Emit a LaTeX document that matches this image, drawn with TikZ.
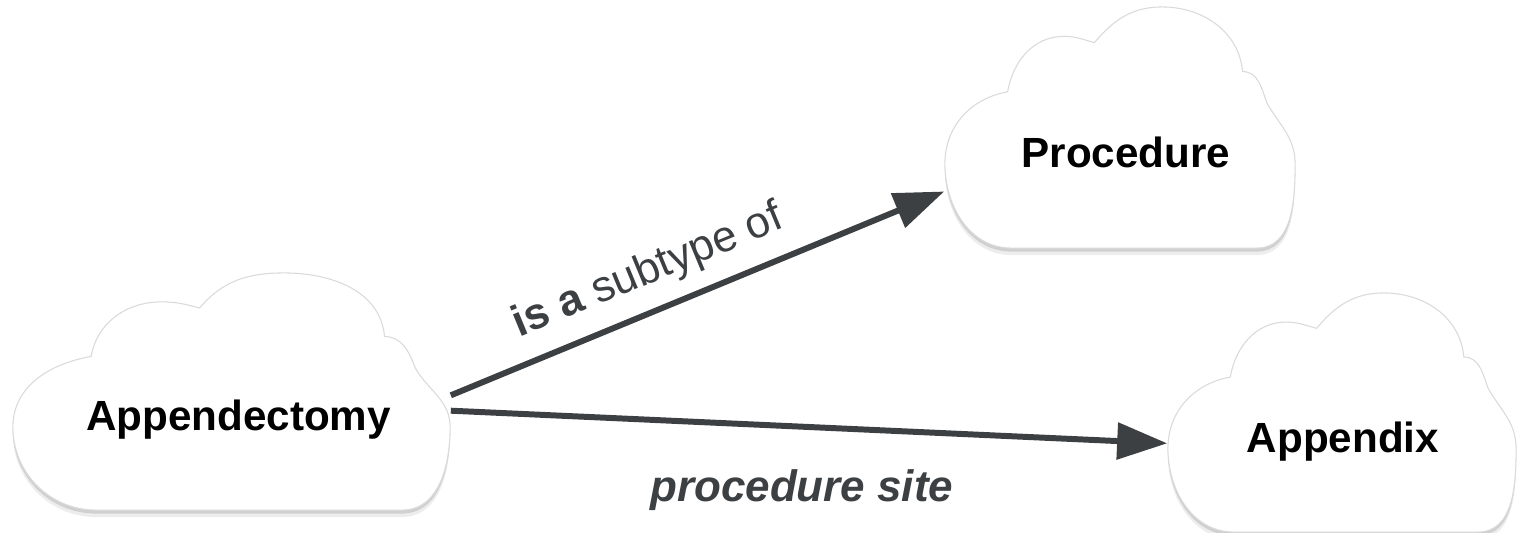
\documentclass[tikz,border=0pt]{standalone}
\usepackage{fontspec}
\setmainfont{Liberation Sans}
\usepackage{tikz}
\usetikzlibrary{positioning,arrows.meta,backgrounds}
\definecolor{linegray}{HTML}{3C4043}
\definecolor{cloudedge}{HTML}{DADADA}

% cloud outline around a named box: #1 node, #2 width (cm), #3 height (cm)
\newcommand{\drawcloud}[3]{%
  \begin{scope}[shift={(#1.center)},x=#2cm,y=#3cm]
    \path[cloud] (-0.31,-0.5) -- (0.39,-0.5)
      to[out=0,in=-90] (0.5,-0.15)
      to[out=90,in=-60] (0.42,0.10)
      to[out=110,in=0] (0.35,0.232)
      to[out=95,in=0] (0.12,0.5)
      to[out=180,in=50] (-0.073,0.352)
      to[out=165,in=0] (-0.16,0.378)
      to[out=180,in=80] (-0.321,0.148)
      to[out=190,in=90] (-0.5,-0.15)
      to[out=-90,in=180] (-0.31,-0.5) -- cycle;
  \end{scope}}

\begin{document}
\begin{tikzpicture}[
  x = 0.01cm,
  y = -0.01cm,
  cloudbox/.style = {
    rectangle,
    inner sep = 0pt,
  },
  cloud/.style = {
    fill = white,
    draw = cloudedge,
    line width = 0.3pt,
    preaction = {fill=black, opacity=0.07, transform canvas={yshift=-0.7mm}},
    preaction = {fill=black, opacity=0.12, transform canvas={yshift=-0.35mm}},
  },
  term/.style = {
    font = \fontsize{12}{14}\selectfont\bfseries,
    text = black,
  },
  rellabel/.style = {
    font = \fontsize{12.5}{15}\selectfont,
    text = linegray,
  },
  relation/.style = {
    draw = linegray,
    line width = 1.7pt,
    -{Triangle[length=0.5cm,width=0.36cm]},
  },
]

  \useasboundingbox (0,0) rectangle (1517,533);

  \node[cloudbox,minimum width=4.37cm,minimum height=2.37cm] (appendectomy) at (231.5,391.5) {};
  \node[cloudbox,minimum width=3.50cm,minimum height=2.41cm] (procedure) at (1120,127.5) {};
  \node[cloudbox,minimum width=3.48cm,minimum height=2.39cm] (appendix) at (1342,412.5) {};

  \node[term] (appendectomyText) at ([shift={(0.07cm,-0.28cm)}]appendectomy.center) {Appendectomy};
  \node[term] (procedureText) at ([shift={(0.06cm,-0.25cm)}]procedure.center) {Procedure};
  \node[term] (appendixText) at ([shift={(0.01cm,-0.29cm)}]appendix.center) {Appendix};

  \begin{scope}[on background layer]
    \drawcloud{appendectomy}{4.37}{2.37}
    \drawcloud{procedure}{3.50}{2.41}
    \drawcloud{appendix}{3.48}{2.39}
  \end{scope}

  \draw[relation] (appendectomy.-1) -- (procedure.200)
    node[rellabel,sloped,above=1pt,pos=0.43] (subtypeLabel) {\textbf{is a} subtype of};
  \draw[relation] (appendectomy.-5) -- (appendix.190)
    node[rellabel,below=8pt,pos=0.49,font=\fontsize{12.5}{15}\selectfont\bfseries\itshape] (siteLabel) {procedure site};

\end{tikzpicture}
\end{document}
